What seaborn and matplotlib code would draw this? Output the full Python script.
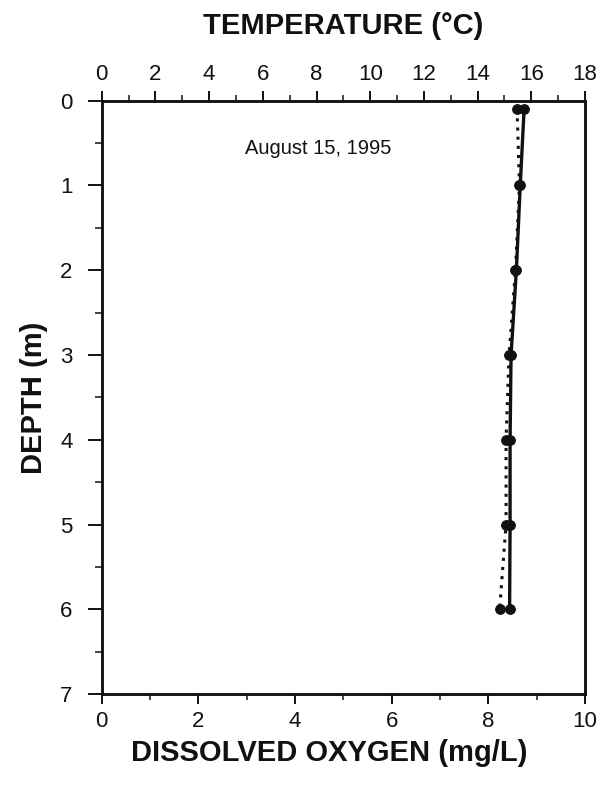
import matplotlib
matplotlib.use("Agg")
import matplotlib.pyplot as plt
import seaborn as sns
import pandas as pd
from matplotlib.ticker import MultipleLocator

# Data
depth_m = [0.1, 1, 2, 3, 4, 5, 6]
dissolved_oxygen = [8.74, 8.66, 8.58, 8.47, 8.45, 8.45, 8.44]   # mg/L, solid line (bottom axis)
temperature_c = [15.47, 15.56, 15.41, 15.17, 15.06, 15.06, 14.82]  # deg C, dotted line (top axis)

do_ticks = [0, 2, 4, 6, 8, 10]
temp_ticks = [0, 2, 4, 6, 8, 10, 12, 14, 16, 18]
depth_ticks = [0, 1, 2, 3, 4, 5, 6, 7]
annotation = "August 15, 1995"

sns.set_theme(style="white")
plt.rcParams['font.family'] = ['Liberation Sans', 'DejaVu Sans']

df = pd.DataFrame({"depth": depth_m, "do": dissolved_oxygen, "temp": temperature_c})

fig = plt.figure(figsize=(6.15, 7.91), dpi=100)
ax = fig.add_axes([0.1654, 0.1226, 0.7858, 0.7501])
ax2 = ax.twiny()

sns.lineplot(data=df, x="do", y="depth", orient="y", sort=False, ax=ax,
             color="#111111", linewidth=2.4, marker="o", markersize=7,
             markeredgecolor="#111111", markerfacecolor="#111111")
sns.lineplot(data=df, x="temp", y="depth", orient="y", sort=False, ax=ax2,
             color="#111111", linewidth=2.2, linestyle=(0, (1, 2.0)), marker="o",
             markersize=7, markeredgecolor="#111111", markerfacecolor="#111111")

ax.set_xlim(0, 10)
ax2.set_xlim(0, 18)
ax.set_ylim(7, 0)

ax.set_xticks(do_ticks)
ax.xaxis.set_minor_locator(MultipleLocator(1))
ax2.set_xticks(temp_ticks)
ax2.xaxis.set_minor_locator(MultipleLocator(1))
ax.set_yticks(depth_ticks)
ax.yaxis.set_minor_locator(MultipleLocator(0.5))

ax.tick_params(axis="x", which="major", direction="out", length=7, width=1.4,
               labelsize=16, pad=5, colors="#111111", bottom=True)
ax.tick_params(axis="x", which="minor", direction="out", length=4, width=1.2, bottom=True)
ax.tick_params(axis="y", which="major", direction="out", length=10, width=1.4,
               labelsize=16, pad=11, colors="#111111", left=True)
ax.tick_params(axis="y", which="minor", direction="out", length=5, width=1.2, left=True)
ax2.tick_params(axis="x", which="major", direction="out", length=7, width=1.4,
                labelsize=16, pad=4, colors="#111111", top=True)
ax2.tick_params(axis="x", which="minor", direction="out", length=4, width=1.2, top=True)

for a in (ax, ax2):
    for s in a.spines.values():
        s.set_linewidth(1.8)
        s.set_color("#111111")

ax.set_xlabel("DISSOLVED OXYGEN (mg/L)", fontsize=21, fontweight="bold",
              labelpad=4, color="#111111")
ax.xaxis.set_label_coords(0.47, -0.075)
ax.set_ylabel("DEPTH (m)", fontsize=21, fontweight="bold", labelpad=9, color="#111111")
ax2.set_xlabel("TEMPERATURE (°C)", fontsize=21, fontweight="bold",
               labelpad=22, color="#111111")

ax.text(4.48, 0.56, annotation, fontsize=14.5, ha="center", va="center", color="#111111")

fig.savefig("out.png", dpi=100)
